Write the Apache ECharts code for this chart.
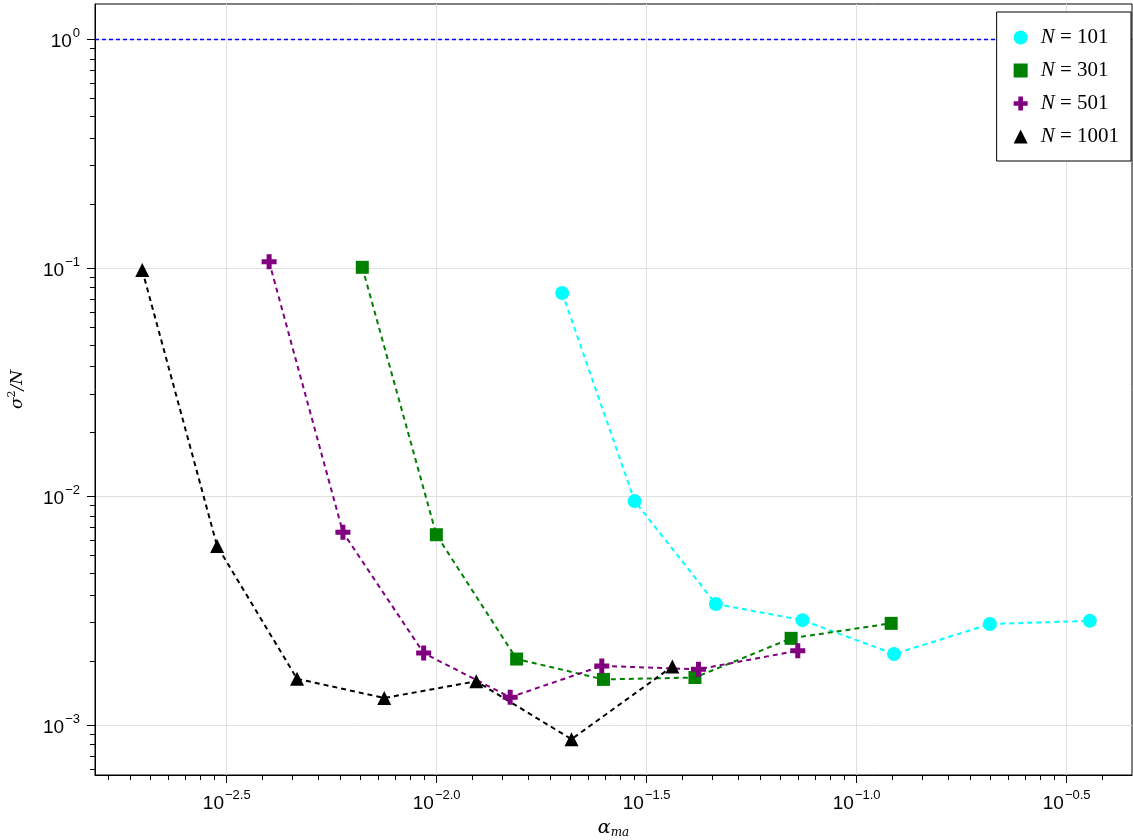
<!DOCTYPE html>
<html><head><meta charset="utf-8">
<script src="https://cdn.jsdelivr.net/npm/echarts@6/dist/echarts.min.js"></script>
<style>html,body{margin:0;padding:0;background:#fff}#c{width:1133px;height:840px}</style>
</head><body><div id="c"></div>
<script>
// ---- data (alpha_ma, sigma^2/N) ----
const seriesNames = ['N=101', 'N=301', 'N=501', 'N=1001'];
const alpha101 = [0.0199, 0.0296, 0.0462, 0.0743, 0.1227, 0.2075, 0.359];
const sig101   = [0.0776, 0.00953, 0.00338, 0.00287, 0.00204, 0.00276, 0.00285];
const alpha301 = [0.00665, 0.00998, 0.0155, 0.02495, 0.0412, 0.0698, 0.1208];
const sig301   = [0.1005, 0.00679, 0.00194, 0.00158, 0.00161, 0.00239, 0.00278];
const alpha501 = [0.00399, 0.00598, 0.00931, 0.01496, 0.02472, 0.0420, 0.0724];
const sig501   = [0.1063, 0.00696, 0.00206, 0.00132, 0.00181, 0.00175, 0.00211];
const alpha1001 = [0.00199, 0.0030, 0.00465, 0.0075, 0.01242, 0.02094, 0.0364];
const sig1001   = [0.0977, 0.00606, 0.00159, 0.00131, 0.00155, 0.000865, 0.00180];
const refLevel = 1; // horizontal dashed reference line
// tick exponents (log10)
const xMajorTicks = [-2.5, -2.0, -1.5, -1.0, -0.5];
const yMajorTicks = [-3, -2, -1, 0];

// ---- axis extents in log10 space ----
const XMIN = -2.8136, XMAX = -0.3445;
const YMIN = -3.2197, YMAX = 0.1545;

function minorTicks(step, lo, hi) {
  const out = [];
  const i0 = Math.floor(lo / step) - 1, i1 = Math.ceil(hi / step) + 1;
  for (let i = i0; i < i1; i++) {
    const e = i * step;
    const v0 = Math.pow(10, e), v1 = Math.pow(10, e + step);
    for (let k = 1; k < 10; k++) {
      const t = Math.log10(v0 + k * (v1 - v0) / 10);
      if (t > lo && t < hi) out.push(t);
    }
  }
  return out;
}
const xMinor = minorTicks(0.5, XMIN, XMAX);
const yMinor = minorTicks(1, YMIN, YMAX);

function toLog(a, s) { return a.map((v, i) => [Math.log10(v), Math.log10(s[i])]); }

const MINUS = '\u2212';
function expLabel(v, digits) {
  let s = digits ? Math.abs(v).toFixed(digits) : String(Math.abs(Math.round(v)));
  if (v < 0) s = MINUS + s;
  return '{b|10}{s|' + s + '}';
}
const labelRich = {
  b: {fontSize: 19, fontFamily: 'Liberation Sans', color: '#000', lineHeight: 24, verticalAlign: 'bottom'},
  s: {fontSize: 13, fontFamily: 'Liberation Sans', color: '#000', lineHeight: 12, verticalAlign: 'top', padding: [0, 0, 0, 1]}
};

const crossPath = 'path://M4,0H8V4H12V8H8V12H4V8H0V4H4Z';
const colors = ['#00ffff', '#008000', '#800080', '#000000'];
const symbols = ['circle', 'rect', crossPath, 'triangle'];
const sizes = [14, 13, 15, 14];
const datasets = [toLog(alpha101, sig101), toLog(alpha301, sig301), toLog(alpha501, sig501), toLog(alpha1001, sig1001)];

const series = datasets.map((d, i) => ({
  name: seriesNames[i],
  type: 'line',
  xAxisIndex: 0, yAxisIndex: 0,
  data: d,
  symbol: symbols[i],
  symbolSize: sizes[i],
  showAllSymbol: true,
  color: colors[i],
  itemStyle: {color: colors[i], borderWidth: 0},
  lineStyle: {color: colors[i], width: 2, type: [5, 4]},
  z: 2
}));
series.unshift({
  name: 'ref', type: 'line', data: [], color: '#0000ff', z: 1, silent: true,
  markLine: {
    silent: true, symbol: ['none', 'none'], label: {show: false}, z: 1,
    itemStyle: {color: '#0000ff'},
    lineStyle: {color: '#0000ff', width: 1.3, type: [4, 3], opacity: 1},
    emphasis: {disabled: true},
    data: [{yAxis: Math.log10(refLevel)}]
  }
});

const chart = echarts.init(document.getElementById('c'), null, {renderer: 'canvas'});
chart.setOption({
  animation: false,
  backgroundColor: '#fff',
  grid: {left: 95, right: 1, top: 4, bottom: 65, containLabel: false, outerBoundsMode: 'none',
         show: true, borderColor: '#000', borderWidth: 1, backgroundColor: 'transparent'},
  xAxis: [{
    type: 'value', min: XMIN, max: XMAX, position: 'bottom',
    axisLine: {show: true, onZero: false, lineStyle: {color: '#000', width: 1}},
    axisTick: {show: true, customValues: xMajorTicks, length: 8, lineStyle: {color: '#000', width: 1}},
    axisLabel: {customValues: xMajorTicks, margin: 14, formatter: v => expLabel(v, 1), rich: labelRich},
    splitLine: {show: true, lineStyle: {color: '#e0e0e0', width: 1}},
    name: '{a|α}{m|ma}', nameLocation: 'middle', nameGap: 42,
    nameTextStyle: {rich: {
      a: {fontSize: 19, fontFamily: 'DejaVu Serif', fontStyle: 'italic', color: '#000', lineHeight: 22},
      m: {fontSize: 12, fontFamily: 'DejaVu Serif', fontStyle: 'italic', color: '#000', lineHeight: 12, verticalAlign: 'bottom'}
    }}
  }, {
    type: 'value', min: XMIN, max: XMAX, position: 'bottom',
    axisLine: {show: false, onZero: false},
    axisTick: {show: true, customValues: xMinor, length: 5, lineStyle: {color: '#000', width: 1}},
    axisLabel: {show: false},
    splitLine: {show: false}
  }],
  yAxis: [{
    type: 'value', min: YMIN, max: YMAX, position: 'left',
    axisLine: {show: true, onZero: false, lineStyle: {color: '#000', width: 1}},
    axisTick: {show: true, customValues: yMajorTicks, length: 8, lineStyle: {color: '#000', width: 1}},
    axisLabel: {customValues: yMajorTicks, margin: 15, formatter: v => expLabel(v, 0), rich: labelRich},
    splitLine: {show: true, lineStyle: {color: '#e0e0e0', width: 1}},
    name: '{i|σ}{s|2}{i|/N}', nameLocation: 'middle', nameGap: 66, nameRotate: 90,
    nameTextStyle: {rich: {
      i: {fontSize: 17, fontFamily: 'DejaVu Serif', fontStyle: 'italic', color: '#000', lineHeight: 22},
      s: {fontSize: 11, fontFamily: 'DejaVu Serif', color: '#000', lineHeight: 12, verticalAlign: 'top'}
    }}
  }, {
    type: 'value', min: YMIN, max: YMAX, position: 'left',
    axisLine: {show: false, onZero: false},
    axisTick: {show: true, customValues: yMinor, length: 5, lineStyle: {color: '#000', width: 1}},
    axisLabel: {show: false},
    splitLine: {show: false}
  }],
  legend: {
    orient: 'vertical', right: 2, top: 12, z: 20,
    backgroundColor: '#fff', borderColor: '#000', borderWidth: 1, borderRadius: 0,
    padding: [15, 12, 14, 17], itemGap: 12, itemWidth: 14, itemHeight: 14,
    itemStyle: {borderWidth: 0},
    data: seriesNames.map((n, i) => ({name: n, icon: symbols[i]})),
    formatter: n => '{i|N}{d| = ' + n.split('=')[1] + '}',
    textStyle: {padding: [0, 0, 0, 8], rich: {
      i: {fontSize: 21, fontFamily: 'Liberation Serif', fontStyle: 'italic', color: '#000', lineHeight: 19},
      d: {fontSize: 21, fontFamily: 'Liberation Serif', color: '#000', lineHeight: 19}
    }}
  },
  series: series
});
</script>
</body></html>
